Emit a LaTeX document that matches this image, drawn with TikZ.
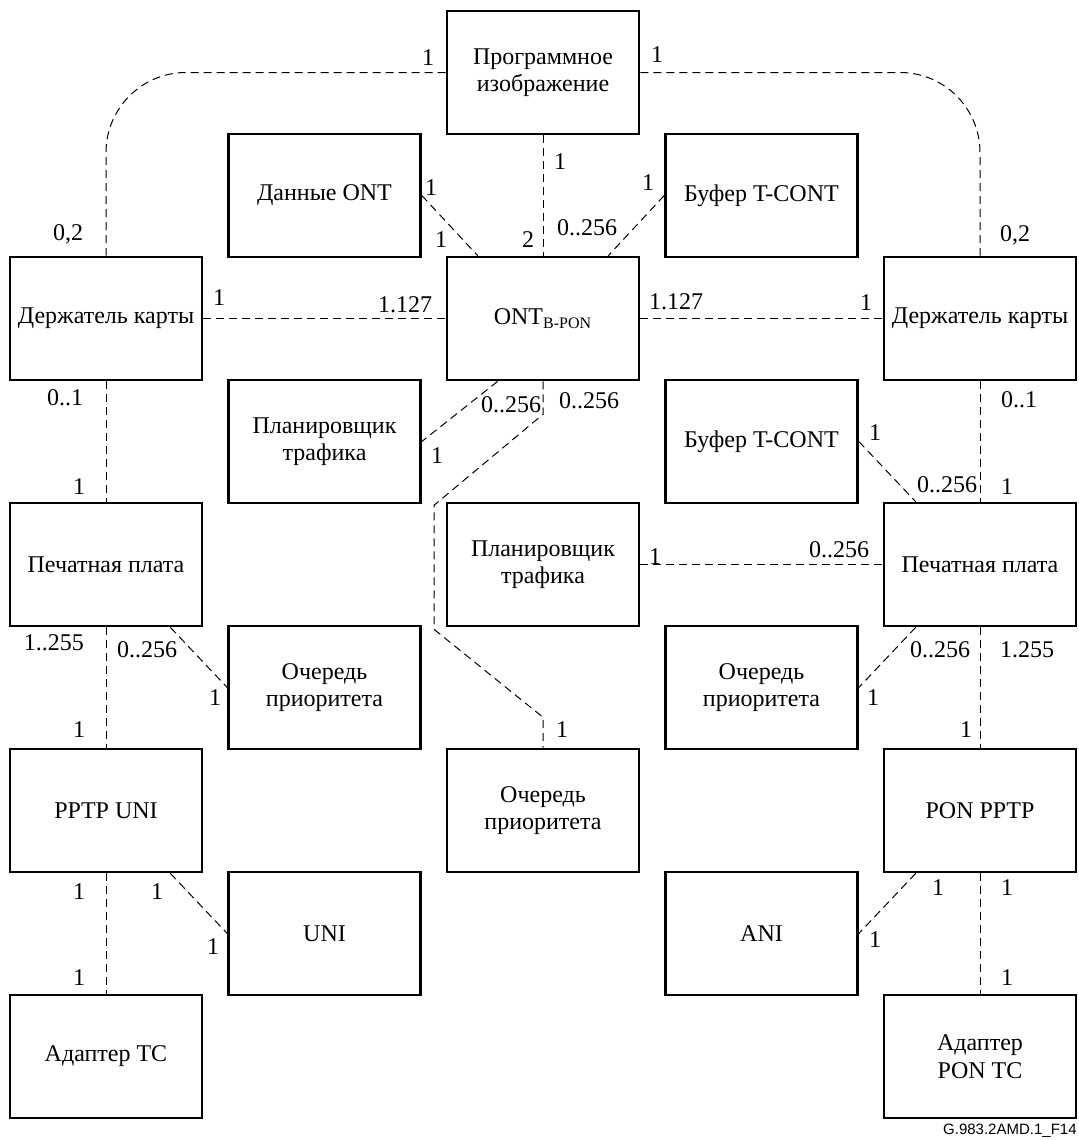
\documentclass[tikz,border=0pt]{standalone}
\usepackage{fontspec}
\setmainfont{Liberation Serif}
\newfontfamily\capfont{Liberation Sans}
\begin{document}
\begin{tikzpicture}[x=0.5pt,y=-0.5pt,
  box/.style={draw,line width=1.3pt,minimum width=96pt,minimum height=61.5pt,
    align=center,inner sep=2pt,font=\fontsize{12}{13.8}\selectfont},
  link/.style={line width=0.5pt,dash pattern=on 4pt off 2.5pt},
  mult/.style={inner sep=0pt,font=\fontsize{12}{13.8}\selectfont}]
  \useasboundingbox (0,0) rectangle (1078,1140);
  % ---- boxes, row by row ----
  \node[box] (prog) at (543,72.5) {Программное\\изображение};
  \node[box] (dataont) at (324.5,195.5) {Данные ONT};
  \node[box] (tcontA) at (761.5,195.5) {Буфер T-CONT};
  \node[box] (holderL) at (106,318.5) {Держатель карты};
  \node[box] (ont) at (543,318.5) {ONT\textsubscript{B-PON}};
  \node[box] (holderR) at (980,318.5) {Держатель карты};
  \node[box] (schedL) at (324.5,441.5) {Планировщик\\трафика};
  \node[box] (tcontB) at (761.5,441.5) {Буфер T-CONT};
  \node[box] (boardL) at (106,564.5) {Печатная плата};
  \node[box] (schedM) at (543,564.5) {Планировщик\\трафика};
  \node[box] (boardR) at (980,564.5) {Печатная плата};
  \node[box] (queueL) at (324.5,687.5) {Очередь\\приоритета};
  \node[box] (queueR) at (761.5,687.5) {Очередь\\приоритета};
  \node[box] (pptpuni) at (106,810.5) {PPTP UNI};
  \node[box] (queueM) at (543,810.5) {Очередь\\приоритета};
  \node[box] (ponpptp) at (980,810.5) {PON PPTP};
  \node[box] (uni) at (324.5,933.5) {UNI};
  \node[box] (ani) at (761.5,933.5) {ANI};
  \node[box] (tcL) at (106,1056.5) {Адаптер TC};
  \node[box] (tcR) at (980,1056.5) {Адаптер\\PON TC};

  % ---- associations ----
  \draw[link,rounded corners=40pt] (prog.west) -| (holderL.north);
  \draw[link,rounded corners=40pt] (prog.east) -| (holderR.north);
  \draw[link] (prog) -- (ont);
  \draw[link] (dataont.east) -- ([xshift=16pt]ont.north west);
  \draw[link] (tcontA.west) -- ([xshift=-16pt]ont.north east);
  \draw[link] (holderL) -- (ont);
  \draw[link] (ont) -- (holderR);
  \draw[link] (holderL) -- (boardL);
  \draw[link] (holderR) -- (boardR);
  \draw[link] ([xshift=26pt]ont.south west) -- (schedL.east);
  \draw[link] (ont.south) -- ++(0,33) -- ++(-109,91) -- ++(0,124) -- ++(109,88) -- (queueM.north);
  \draw[link] (tcontB.east) -- ([xshift=16.5pt]boardR.north west);
  \draw[link] (schedM) -- (boardR);
  \draw[link] ([xshift=-16.5pt]boardL.south east) -- (queueL.west);
  \draw[link] ([xshift=16.5pt]boardR.south west) -- (queueR.east);
  \draw[link] (boardL) -- (pptpuni);
  \draw[link] (boardR) -- (ponpptp);
  \draw[link] (pptpuni) -- (tcL);
  \draw[link] ([xshift=-16.5pt]pptpuni.south east) -- (uni.west);
  \draw[link] ([xshift=16.5pt]ponpptp.south west) -- (ani.east);
  \draw[link] (ponpptp) -- (tcR);

  % ---- multiplicities ----
  \foreach \x/\y/\t [count=\i] in {428/58/1,68/234/{0,2},657/55/1,1015/235/{0,2},
      431/188/1,441/240/1,528/240/2,560/162/1,587/228/0..256,648/183/1,
      219/298/1,405/305/1.127,676/302/1.127,866/303/1,
      65/398/0..1,79/487/1,511/405/0..256,589/401/0..256,437/456/1,
      1019/400/0..1,875/433/1,947/485/0..256,1007/487/1,
      655/557/1,839/550/0..256,
      54/643/1..255,147/650/0..256,215/698/1,940/650/0..256,1027/650/1.255,873/698/1,
      79/730/1,966/730/1,562/730/1,
      79/892/1,157/892/1,213/947/1,79/978/1,
      938/888/1,1007/888/1,875/940/1,1007/978/1}{
    \node[mult] (m\i) at (\x,\y) {\t};
  }

  % figure id
  \node[anchor=east,inner sep=0pt,font=\capfont\fontsize{7.5}{9}\selectfont] (figid) at (1077,1131) {G.983.2AMD.1\_F14};
\end{tikzpicture}
\end{document}
